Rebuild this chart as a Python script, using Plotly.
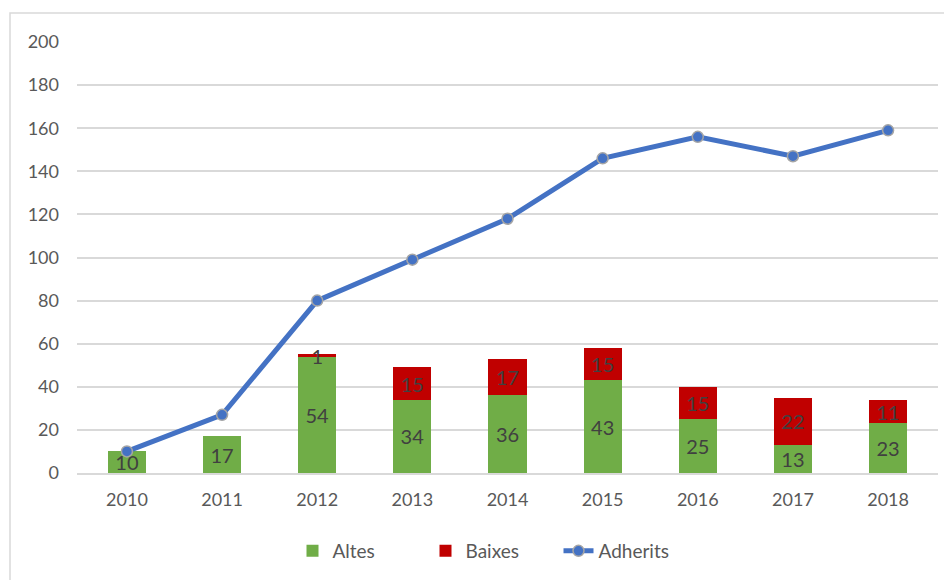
import plotly.graph_objects as go

years = ["2010", "2011", "2012", "2013", "2014", "2015", "2016", "2017", "2018"]
altes = [10, 17, 54, 34, 36, 43, 25, 13, 23]
baixes = [None, None, 1, 15, 17, 15, 15, 22, 11]
adherits = [10, 27, 80, 99, 118, 146, 156, 147, 159]

FONT = "Lato, Liberation Sans, sans-serif"
LABEL_COLOR = "#404040"

fig = go.Figure()
fig.add_trace(go.Bar(
    x=years, y=altes, name="Altes", marker=dict(color="#70AD47", line=dict(width=0)),
    text=altes, texttemplate="%{text}", textposition="inside", insidetextanchor="middle",
    textangle=0, constraintext="none", textfont=dict(size=20, color=LABEL_COLOR, family=FONT),
))
fig.add_trace(go.Bar(
    x=years, y=baixes, name="Baixes", marker=dict(color="#C00000", line=dict(width=0)),
    text=baixes, texttemplate="%{text}", textposition="inside", insidetextanchor="middle",
    textangle=0, constraintext="none", textfont=dict(size=20, color=LABEL_COLOR, family=FONT),
))
fig.add_trace(go.Scatter(
    x=years, y=adherits, name="Adherits", mode="lines+markers",
    line=dict(color="#4472C4", width=5),
    marker=dict(size=11, color="#4472C4", line=dict(color="#A5A5A5", width=1.5)),
))

# page body has an 8px offset; positions below are in figure coordinates
W, H = 952, 580
L, T = 69, 34
PR, PB = 930, 465
R, B = W - PR, H - PB
pw, ph = PR - L, PB - T

fig.update_layout(
    width=W, height=H, barmode="stack", bargap=0.6,
    margin=dict(l=L, r=R, t=T, b=B, autoexpand=False),
    paper_bgcolor="white", plot_bgcolor="white",
    font=dict(family=FONT, size=18, color="#595959"),
    showlegend=True,
    legend=dict(orientation="h", x=(484 - L) / pw, xanchor="center",
                y=(PB - 543) / ph, yanchor="middle", entrywidth=88, entrywidthmode="pixels",
                font=dict(size=19, color="#595959"), traceorder="normal"),
    xaxis=dict(showgrid=False, showline=True, linecolor="#D9D9D9", linewidth=1.5,
               ticks="", automargin=False, tickfont=dict(size=18, color="#595959"),
               ticklabelstandoff=10),
    yaxis=dict(range=[0, 200], tick0=0, dtick=20, showgrid=True, gridcolor="#D9D9D9",
               gridwidth=1.5, zeroline=False, showline=False, ticks="", automargin=False,
               tickfont=dict(size=18, color="#595959"), ticklabelstandoff=17),
    shapes=[dict(type="rect", xref="paper", yref="paper",
                 x0=(2 - L) / pw, x1=(939 - L) / pw,
                 y0=(PB - 578) / ph, y1=1 + (T - 5) / ph,
                 line=dict(color="#D9D9D9", width=1.5), fillcolor="rgba(0,0,0,0)", layer="below")],
)

fig.write_html("out.html")
